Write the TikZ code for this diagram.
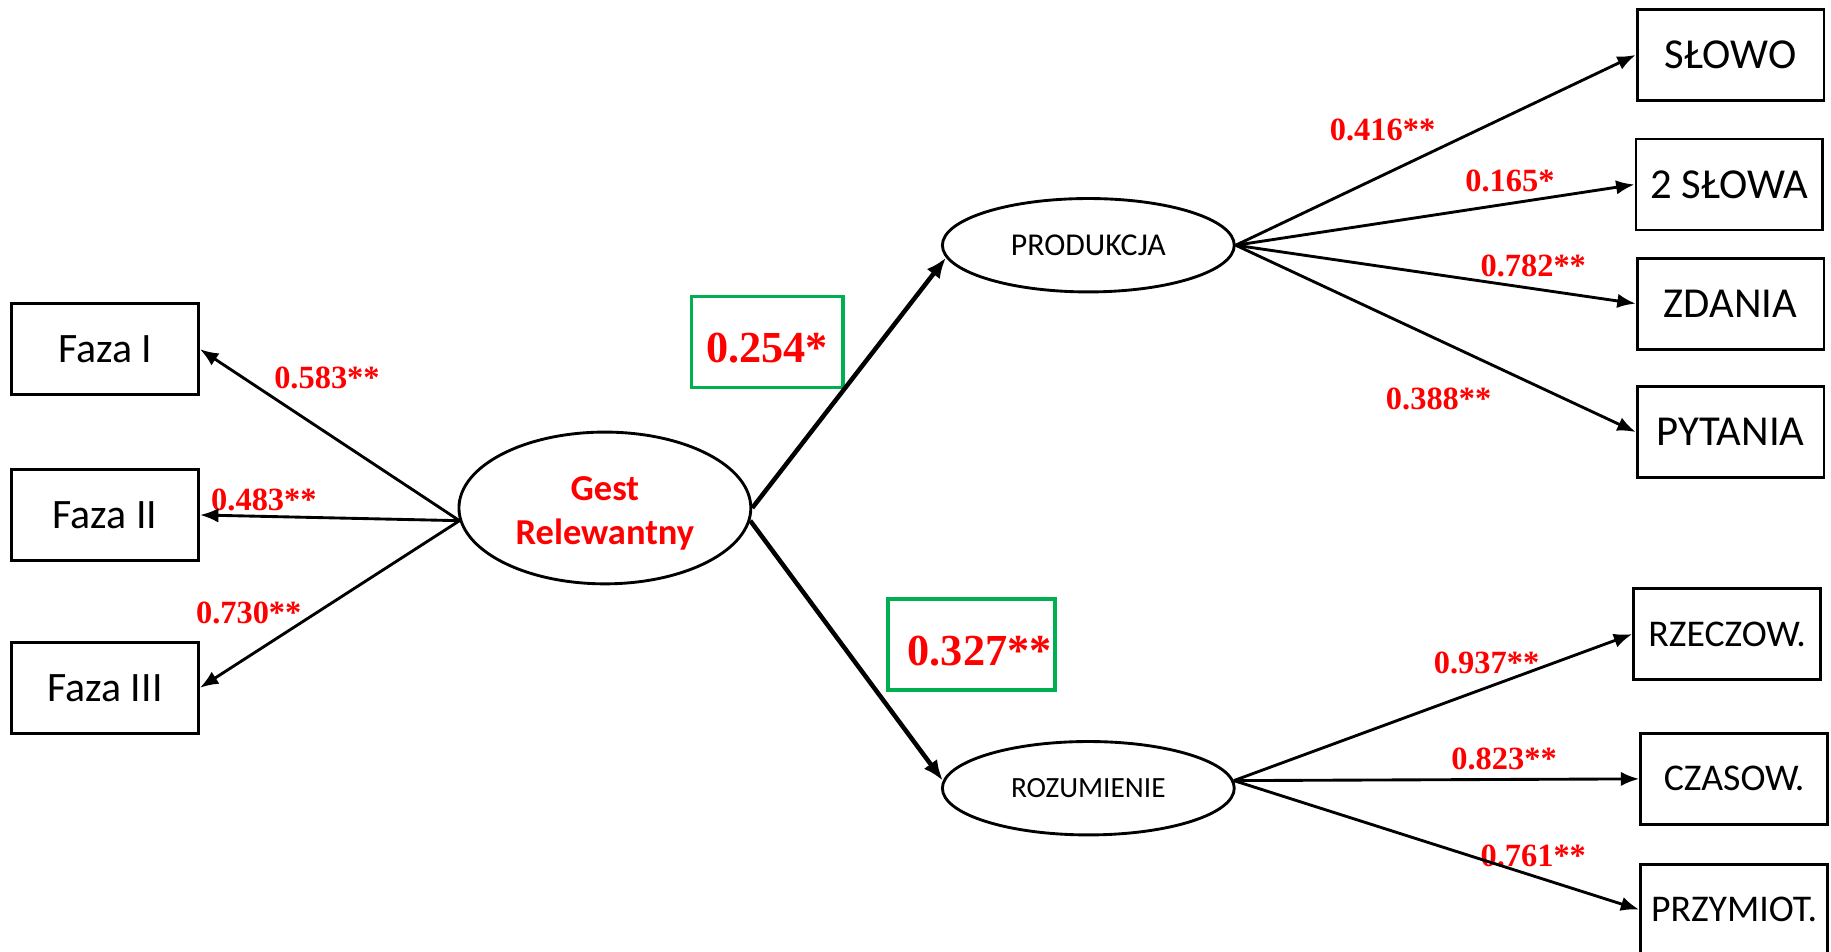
\documentclass[tikz,border=0pt]{standalone}
\usepackage{fontspec}
\setmainfont{Carlito}
\newfontfamily\numfont{Liberation Serif}
\usetikzlibrary{shapes.geometric,arrows.meta}
\definecolor{sigred}{RGB}{255,0,0}
\definecolor{boxgreen}{RGB}{0,176,80}

\begin{document}
\begin{tikzpicture}
    [
    x=0.02cm, y=-0.02cm,
    var/.style={rectangle,draw,line width=1.4pt,minimum width=3.2cm,minimum height=1.56cm,inner sep=0pt,font=\fontsize{20.4}{24}\selectfont},
    latent/.style={ellipse,draw,line width=1.4pt,minimum width=5cm,minimum height=1.6cm,inner sep=0pt,font=\fontsize{14.3}{17}\selectfont},
    coef/.style={text=sigred,font=\numfont\bfseries\fontsize{15.8}{18}\selectfont,inner sep=0pt},
    keycoef/.style={draw=boxgreen,line width=1.7pt,minimum height=1.56cm,inner sep=0pt,text height=20.2pt,text depth=0pt,text=sigred,font=\numfont\bfseries\fontsize{21.6}{24}\selectfont},
    link/.style={-{Latex[length=9pt,width=7pt]},line width=1.4pt},
    mainlink/.style={-{Latex[length=10pt,width=8pt]},line width=2.2pt}
    ]
    \useasboundingbox (0,0) rectangle (1568,815);
    % indicators of the gesture factor
    \node (faza1) at (90,299) [var] {Faza I};
    \node (faza2) at (90,441) [var] {Faza II};
    \node (faza3) at (90,589) [var] {Faza III};
    \node (gest) at (518,435) [latent, minimum height=2.6cm, text=sigred, font=\bfseries\fontsize{17.8}{21.5}\selectfont, align=center, text height=39.5pt, text depth=3.5pt] {Gest\\Relewantny};
    \node (prod) at (932,210) [latent, font=\fontsize{15.5}{18}\selectfont] {PRODUKCJA};
    \node (rozu) at (932,675) [latent] {ROZUMIENIE};
    % production indicators
    \node (slowo) at (1482,47) [var, font=\fontsize{20.8}{24}\selectfont] {SŁOWO};
    \node (slowa) at (1481,158) [var, font=\fontsize{20.8}{24}\selectfont] {2 SŁOWA};
    \node (zdania) at (1482,260) [var, font=\fontsize{20.8}{24}\selectfont] {ZDANIA};
    \node (pytania) at (1482,370) [var, font=\fontsize{20.8}{24}\selectfont] {PYTANIA};
    % comprehension indicators
    \node (rzecz) at (1479,543) [var, font=\fontsize{18.4}{22}\selectfont] {RZECZOW.};
    \node (czas) at (1485,667) [var, font=\fontsize{18.4}{22}\selectfont] {CZASOW.};
    \node (przym) at (1485,779) [var, font=\fontsize{18.4}{22}\selectfont] {PRZYMIOT.};
    % path coefficients
    \node (k254) at (657,293) [keycoef, minimum width=2.6cm] {0.254*};
    \node (k327) at (832,552) [keycoef, minimum width=2.86cm] {\hspace{8pt}0.327**};
    \node (c583) at (280,324) [coef] {0.583**};
    \node (c483) at (226,428) [coef] {0.483**};
    \node (c730) at (213,525) [coef] {0.730**};
    \node (c416) at (1184,111) [coef] {0.416**};
    \node (c165) at (1293,155) [coef] {0.165*};
    \node (c782) at (1313,228) [coef] {0.782**};
    \node (c388) at (1232,342) [coef] {0.388**};
    \node (c937) at (1273,568) [coef] {0.937**};
    \node (c823) at (1288,650) [coef] {0.823**};
    \node (c761) at (1313,733) [coef] {0.761**};
    \draw [link] (gest.185) to (faza1.east);
    \draw [link] (gest.185) to (faza2.east);
    \draw [link] (gest.185) to (faza3.east);
    \draw [mainlink] (gest.east) to (prod.185);
    \draw [mainlink] (gest.355) to (rozu.177);
    \draw [link] (prod.east) to (slowo.west);
    \draw [link] (prod.east) to (slowa.west);
    \draw [link] (prod.east) to (zdania.west);
    \draw [link] (prod.east) to (pytania.west);
    \draw [link] (rozu.3) to (rzecz.west);
    \draw [link] (rozu.3) to (czas.west);
    \draw [link] (rozu.3) to (przym.west);
  \end{tikzpicture}
\end{document}
